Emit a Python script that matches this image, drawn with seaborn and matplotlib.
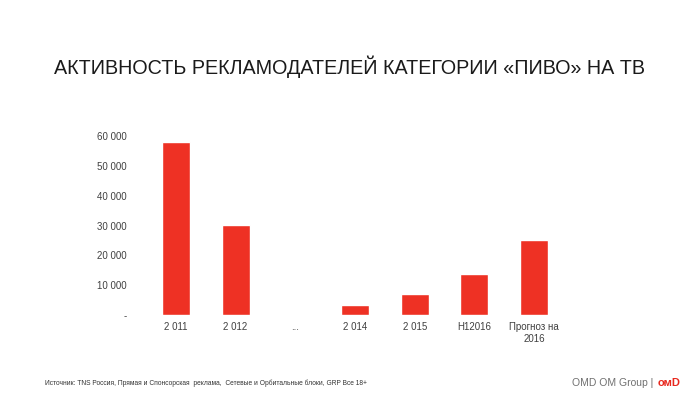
import matplotlib
matplotlib.use("Agg")
import matplotlib.pyplot as plt
import seaborn as sns
import pandas as pd

categories = ["2 011", "2 012", "...", "2 014", "2 015", "H12016", "Прогноз на\n2016"]
values = [58000, 30200, 0, 3300, 7000, 13800, 25200]
yticks = [0, 10000, 20000, 30000, 40000, 50000, 60000]
ytick_labels = ["-", "10 000", "20 000", "30 000", "40 000", "50 000", "60 000"]

sns.set_theme(style="white")
plt.rcParams['font.family'] = ['Liberation Sans', 'DejaVu Sans']

df = pd.DataFrame({"cat": categories, "val": values})

fig = plt.figure(figsize=(7, 3.94), dpi=100)
ax = fig.add_axes([0.2086, 0.2005, 0.597, 0.4543])
sns.barplot(data=df, x="cat", y="val", color="#EE3124", width=0.47, saturation=1, ax=ax)
ax.set_xlim(-0.5, 6.5)
ax.set_ylim(0, 60000)
ax.set_yticks(yticks)
ax.set_yticklabels(ytick_labels)
ax.set_xlabel("")
ax.set_ylabel("")
for s in ax.spines.values():
    s.set_visible(False)
ax.tick_params(axis="both", length=0, labelsize=7, labelcolor="#404040")
ax.tick_params(axis="y", pad=14)
ax.tick_params(axis="x", pad=5)

fig.text(0.5, 0.83, "АКТИВНОСТЬ РЕКЛАМОДАТЕЛЕЙ КАТЕГОРИИ «ПИВО» НА ТВ",
         ha="center", va="center", fontsize=14.2, color="#1a1a1a")
fig.text(45/700, 1 - 383/394, "Источник: TNS Россия, Прямая и Спонсорская  реклама,  Сетевые и Орбитальные блоки, GRP Все 18+",
         ha="left", va="center", fontsize=4.8, color="#333333")
fig.text(572/700, 1 - 383/394, "OMD OM Group |", ha="left", va="center", fontsize=7.5, color="#707070")
fig.text(658/700, 1 - 383/394, "омD", ha="left", va="center", fontsize=8, color="#E8281E", fontweight="bold")

fig.savefig("out.png", dpi=100)
